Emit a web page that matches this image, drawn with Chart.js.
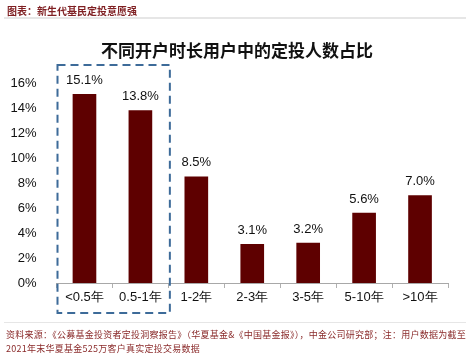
<!DOCTYPE html>
<html>
<head>
<meta charset="utf-8">
<script src="https://cdn.jsdelivr.net/npm/chart.js@4/dist/chart.umd.min.js"></script>
<style>
  html, body { margin: 0; padding: 0; background: #fff; }
  #wrap { position: relative; width: 474px; height: 356px; overflow: hidden; }
  canvas { position: absolute; left: 0; top: 0; }
  .hdr { position: absolute; left: 7px; top: 4px; font: bold 10px "Noto Sans CJK SC", sans-serif; color: #7f1f22; line-height: 14px; white-space: nowrap; }
  .hline { position: absolute; left: 4px; width: 462px; height: 2px; background: #e6e6e6; }
  .ttl { position: absolute; left: 0; width: 474px; top: 39px; text-align: center; font: bold 17px "Noto Sans CJK SC", sans-serif; color: #111; line-height: 22px; }
  .ftr { position: absolute; left: 6px; top: 328px; font: 9px "Noto Sans CJK SC", sans-serif; color: #8a2a2a; line-height: 13.5px; white-space: nowrap; letter-spacing: 0.25px; }
</style>
</head>
<body>
<div id="wrap">
  <canvas id="c" width="474" height="356"></canvas>
  <div class="hdr">图表：新生代基民定投意愿强</div>
  <div class="hline" style="top:17px"></div>
  <div class="ttl">不同开户时长用户中的定投人数占比</div>
  <div class="hline" style="top:322px;height:1px"></div>
  <div class="ftr">资料来源：《公募基金投资者定投洞察报告》（华夏基金&amp;《中国基金报》），中金公司研究部；注：用户数据为截至<br>2021年末华夏基金525万客户真实定投交易数据</div>
</div>
<script>
const categories = ['<0.5年', '0.5-1年', '1-2年', '2-3年', '3-5年', '5-10年', '>10年'];
const shares = [15.1, 13.8, 8.5, 3.1, 3.2, 5.6, 7.0];
const highlighted = [0, 1];
const yTicks = [0, 2, 4, 6, 8, 10, 12, 14, 16];

const valueLabels = {
  id: 'valueLabels',
  afterDatasetsDraw(chart) {
    const ctx = chart.ctx;
    const meta = chart.getDatasetMeta(0);
    ctx.save();
    ctx.font = '13px "Liberation Sans", Arial, sans-serif';
    ctx.fillStyle = '#111';
    ctx.textAlign = 'center';
    ctx.textBaseline = 'middle';
    meta.data.forEach((bar, i) => {
      ctx.fillText(shares[i].toFixed(1) + '%', bar.x, bar.y - 14);
    });
    ctx.restore();
  }
};

const dashedBox = {
  id: 'dashedBox',
  afterDraw(chart) {
    const xs = chart.scales.x;
    const area = chart.chartArea;
    const half = (xs.getPixelForValue(1) - xs.getPixelForValue(0)) / 2;
    const x0 = xs.getPixelForValue(highlighted[0]) - half + 1;
    const x1 = xs.getPixelForValue(highlighted[highlighted.length - 1]) + half + 1.5;
    const y0 = area.top - 18;
    const y1 = area.bottom + 30;
    const ctx = chart.ctx;
    ctx.save();
    ctx.strokeStyle = '#3d6b99';
    ctx.lineWidth = 2;
    ctx.setLineDash([8, 5]);
    ctx.strokeRect(x0, y0, x1 - x0, y1 - y0);
    ctx.restore();
  }
};

new Chart(document.getElementById('c'), {
  type: 'bar',
  data: {
    labels: categories,
    datasets: [{
      data: shares,
      backgroundColor: '#5e0000',
      borderWidth: 0,
      barThickness: 23
    }]
  },
  options: {
    responsive: false,
    animation: false,
    devicePixelRatio: 1,
    layout: { padding: { top: 83, right: 26, bottom: 43, left: 0 } },
    plugins: { legend: { display: false }, tooltip: { enabled: false }, title: { display: false } },
    scales: {
      x: {
        grid: { display: true, drawOnChartArea: false, drawTicks: true, tickLength: 5, color: '#b0b0b0', offset: true },
        border: { display: true, color: '#a8a8a8', width: 1 },
        ticks: { font: { size: 13, family: '"Liberation Sans", Arial, sans-serif' }, color: '#111', padding: 2, maxRotation: 0 },
        afterFit(s) { s.height = 30; }
      },
      y: {
        min: 0, max: 16,
        afterBuildTicks(s) { s.ticks = yTicks.map(v => ({ value: v })); },
        grid: { display: false },
        border: { display: false },
        ticks: {
          font: { size: 13, family: '"Liberation Sans", Arial, sans-serif' },
          color: '#111',
          padding: 12,
          callback: v => v + '%'
        },
        afterFit(s) { s.width = 56.5; }
      }
    }
  },
  plugins: [valueLabels, dashedBox]
});
</script>
</body>
</html>
